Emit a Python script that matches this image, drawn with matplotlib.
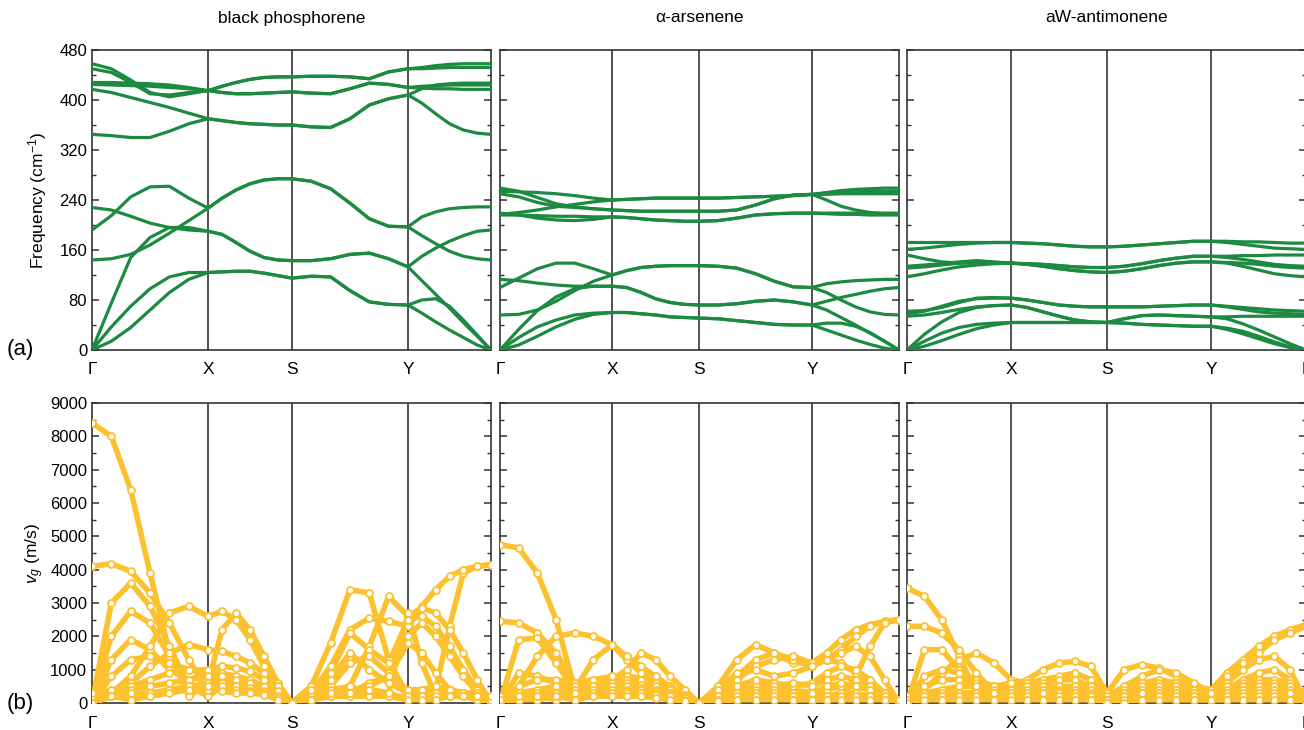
import matplotlib.pyplot as plt
import numpy as np

plt.rcParams['font.family'] = ['Liberation Sans', 'DejaVu Sans']
plt.rcParams['mathtext.fontset'] = 'custom'
plt.rcParams['mathtext.rm'] = 'Liberation Sans'
plt.rcParams['mathtext.it'] = 'Liberation Sans:italic'

materials = ["black phosphorene", "α-arsenene", "aW-antimonene"]
klabels = ["Γ", "X", "S", "Y", "Γ"]
# high-symmetry point positions along the path (fraction of path length)
kpts = [[0, 0.291, 0.501, 0.792, 1.0],
        [0, 0.281, 0.499, 0.782, 1.0],
        [0, 0.261, 0.501, 0.762, 1.0]]
nseg = 7  # samples per segment, ends shared

# phonon frequencies (cm-1), 12 branches, 25 samples along G-X-S-Y-G
bp_freq = [
    [0, 14, 36, 64, 92, 113, 124, 125, 126, 126, 123, 119, 115, 118, 117, 95, 77, 73, 72, 59, 45, 32, 20, 8, 0],
    [0, 37, 70, 98, 117, 124, 124, 125, 126, 126, 123, 119, 115, 118, 117, 95, 77, 73, 72, 80, 82, 70, 48, 24, 0],
    [0, 75, 148, 180, 196, 196, 190, 185, 172, 158, 148, 144, 143, 143, 146, 153, 155, 146, 133, 111, 89, 67, 44, 22, 0],
    [144, 146, 153, 168, 187, 207, 227, 243, 256, 266, 272, 274, 274, 270, 258, 235, 210, 198, 197, 183, 170, 158, 150, 146, 144],
    [192, 215, 245, 261, 262, 243, 227, 243, 256, 266, 272, 274, 274, 270, 258, 235, 210, 198, 197, 213, 221, 226, 228, 229, 229],
    [228, 224, 214, 203, 196, 192, 190, 185, 172, 158, 148, 144, 143, 143, 146, 153, 155, 146, 133, 150, 163, 174, 183, 190, 192],
    [345, 343, 340, 340, 350, 362, 370, 367, 364, 362, 361, 360, 360, 357, 356, 370, 392, 402, 408, 395, 378, 362, 352, 347, 345],
    [417, 412, 404, 396, 388, 379, 370, 367, 364, 362, 361, 360, 360, 357, 356, 370, 392, 402, 408, 418, 424, 426, 427, 427, 427],
    [425, 424, 423, 422, 420, 418, 415, 412, 410, 410, 411, 412, 413, 411, 410, 418, 427, 425, 420, 419, 418, 418, 417, 417, 417],
    [428, 428, 427, 426, 424, 420, 415, 422, 428, 433, 436, 437, 437, 438, 438, 437, 434, 445, 450, 452, 455, 457, 458, 458, 458],
    [458, 450, 432, 412, 405, 410, 415, 412, 410, 410, 411, 412, 413, 411, 410, 418, 427, 425, 420, 422, 423, 424, 424, 424, 424],
    [450, 444, 428, 410, 408, 412, 415, 422, 428, 433, 436, 437, 437, 438, 438, 437, 434, 445, 450, 450, 451, 452, 452, 452, 452],
]
as_freq = [
    [0, 8, 22, 37, 49, 57, 60, 60, 58, 56, 53, 52, 51, 50, 47, 44, 41, 40, 40, 32, 24, 16, 9, 3, 0],
    [0, 20, 37, 48, 56, 59, 60, 60, 58, 56, 53, 52, 51, 50, 47, 44, 41, 40, 40, 43, 43, 38, 28, 14, 0],
    [0, 33, 63, 85, 98, 102, 102, 100, 92, 82, 76, 73, 72, 72, 74, 78, 80, 77, 72, 64, 52, 40, 27, 14, 0],
    [56, 57, 64, 78, 95, 110, 120, 127, 132, 134, 135, 135, 135, 134, 131, 122, 110, 101, 100, 106, 109, 111, 112, 113, 113],
    [100, 115, 130, 139, 139, 130, 120, 127, 132, 134, 135, 135, 135, 134, 131, 122, 110, 101, 100, 92, 80, 69, 61, 57, 56],
    [113, 111, 107, 104, 102, 102, 102, 100, 92, 82, 76, 73, 72, 72, 74, 78, 80, 77, 72, 78, 84, 89, 94, 98, 100],
    [259, 254, 244, 234, 229, 226, 224, 223, 222, 222, 222, 222, 222, 222, 224, 232, 242, 248, 249, 252, 255, 257, 258, 259, 259],
    [250, 245, 236, 230, 228, 226, 224, 223, 222, 222, 222, 222, 222, 222, 224, 232, 242, 248, 249, 240, 230, 224, 220, 218, 217],
    [254, 253, 252, 250, 247, 243, 240, 241, 242, 243, 243, 243, 243, 243, 244, 245, 246, 247, 249, 251, 253, 254, 254, 254, 254],
    [217, 220, 224, 229, 233, 237, 240, 241, 242, 243, 243, 243, 243, 243, 244, 245, 246, 247, 249, 249, 250, 250, 250, 250, 250],
    [219, 216, 211, 208, 207, 209, 213, 212, 210, 208, 207, 206, 206, 207, 211, 216, 218, 219, 219, 219, 219, 219, 219, 219, 219],
    [216, 216, 215, 214, 214, 213, 213, 212, 210, 208, 207, 206, 206, 207, 211, 216, 218, 219, 219, 218, 217, 217, 216, 216, 216],
]
sb_freq = [
    [0, 6, 15, 25, 34, 40, 44, 44, 44, 44, 44, 44, 44, 43, 41, 40, 39, 38, 38, 33, 26, 18, 10, 4, 0],
    [0, 14, 27, 36, 41, 43, 44, 44, 44, 44, 44, 44, 44, 43, 41, 40, 39, 38, 38, 35, 30, 22, 13, 5, 0],
    [0, 25, 45, 60, 68, 71, 72, 68, 61, 54, 48, 45, 44, 50, 55, 56, 55, 54, 53, 50, 42, 32, 21, 10, 0],
    [54, 56, 60, 65, 69, 71, 72, 68, 61, 54, 48, 45, 44, 50, 55, 56, 55, 54, 53, 53, 54, 54, 54, 54, 54],
    [58, 62, 70, 78, 82, 83, 83, 80, 76, 72, 70, 69, 69, 69, 69, 70, 71, 72, 72, 70, 68, 66, 64, 63, 62],
    [62, 63, 68, 76, 83, 84, 83, 80, 76, 72, 70, 69, 69, 69, 69, 70, 71, 72, 72, 69, 65, 61, 59, 58, 57],
    [172, 172, 172, 172, 172, 172, 172, 171, 170, 168, 166, 165, 165, 166, 168, 170, 172, 174, 174, 174, 173, 173, 172, 171, 171],
    [161, 163, 166, 169, 171, 172, 172, 171, 170, 168, 166, 165, 165, 166, 168, 170, 172, 174, 174, 172, 169, 166, 163, 162, 161],
    [152, 146, 141, 139, 139, 139, 139, 138, 137, 135, 133, 132, 132, 134, 138, 143, 147, 150, 150, 150, 151, 151, 152, 152, 152],
    [134, 136, 138, 141, 143, 141, 139, 138, 137, 135, 133, 132, 132, 134, 138, 143, 147, 150, 150, 148, 145, 141, 137, 135, 134],
    [131, 133, 136, 139, 142, 140, 139, 137, 134, 130, 127, 125, 124, 126, 130, 135, 139, 141, 141, 140, 139, 137, 134, 132, 131],
    [117, 122, 128, 133, 136, 138, 139, 137, 134, 130, 127, 125, 124, 126, 130, 135, 139, 141, 141, 139, 134, 128, 122, 119, 117],
]

# group velocities (m/s), same sampling
bp_vg = [
    [8400, 8000, 6400, 3900, 1500, 200, 600, 2200, 2700, 2200, 1400, 600, 0, 500, 1800, 3400, 3300, 1300, 200, 200, 400, 2300, 3900, 4100, 4150],
    [4100, 4180, 3950, 3300, 2400, 1300, 300, 600, 700, 650, 500, 300, 0, 300, 1100, 2200, 2550, 2450, 2300, 2900, 3400, 3800, 4000, 4100, 4150],
    [0, 3000, 3600, 2900, 1700, 500, 200, 500, 600, 600, 450, 250, 0, 200, 300, 500, 1700, 3200, 2600, 2850, 2700, 2200, 1500, 700, 0],
    [0, 2000, 2750, 2400, 1400, 500, 400, 700, 600, 500, 400, 200, 0, 200, 900, 2100, 1600, 1200, 2500, 2600, 2300, 1700, 1000, 400, 0],
    [0, 1300, 1900, 1600, 1000, 700, 900, 900, 800, 700, 500, 300, 0, 100, 500, 1200, 1400, 900, 2000, 2400, 2000, 1400, 800, 300, 0],
    [0, 800, 1300, 1400, 1200, 1000, 900, 800, 700, 600, 500, 250, 0, 100, 200, 300, 600, 800, 1800, 1500, 900, 400, 200, 100, 0],
    [0, 300, 800, 1700, 2700, 2900, 2600, 2750, 2500, 1900, 1100, 500, 0, 500, 300, 300, 400, 300, 2700, 1200, 200, 300, 300, 300, 200],
    [0, 200, 600, 1100, 1500, 1750, 1600, 1550, 1400, 1200, 900, 500, 0, 300, 700, 1500, 1000, 600, 300, 200, 300, 400, 300, 200, 100],
    [0, 300, 500, 700, 900, 1000, 1000, 1100, 1050, 950, 700, 350, 0, 200, 400, 500, 300, 200, 100, 300, 300, 300, 300, 200, 100],
    [200, 400, 400, 500, 600, 700, 800, 600, 500, 450, 350, 200, 0, 300, 200, 300, 500, 800, 400, 400, 500, 400, 300, 200, 100],
    [0, 200, 300, 300, 400, 500, 600, 500, 400, 350, 300, 150, 0, 100, 200, 200, 200, 200, 200, 200, 200, 200, 200, 200, 100],
    [300, 200, 100, 200, 300, 400, 500, 350, 300, 300, 250, 100, 0, 400, 300, 300, 400, 300, 100, 100, 100, 200, 200, 200, 200],
]
as_vg = [
    [4750, 4650, 3900, 2500, 400, 300, 700, 1000, 1500, 1300, 800, 400, 0, 500, 1300, 1750, 1500, 1200, 1200, 1500, 1900, 2200, 2350, 2450, 2500],
    [2450, 2400, 2100, 1500, 600, 200, 600, 800, 750, 650, 500, 250, 0, 300, 800, 1300, 1500, 1300, 1100, 1300, 1600, 2000, 2300, 2450, 2500],
    [0, 1900, 1950, 1200, 400, 300, 600, 700, 650, 550, 400, 200, 0, 200, 400, 500, 600, 400, 300, 200, 100, 800, 1700, 2400, 2500],
    [0, 500, 1400, 2000, 2100, 2000, 1750, 1300, 900, 600, 400, 200, 0, 300, 700, 1100, 1300, 1400, 1200, 1300, 1500, 1700, 1400, 700, 0],
    [0, 300, 200, 100, 400, 1300, 1750, 1400, 1100, 800, 500, 250, 0, 400, 900, 1000, 800, 900, 1100, 1300, 1200, 900, 500, 200, 0],
    [0, 900, 800, 600, 400, 500, 700, 700, 700, 600, 450, 200, 0, 200, 500, 700, 600, 500, 600, 900, 1100, 1000, 700, 300, 0],
    [0, 500, 700, 700, 600, 700, 800, 600, 550, 500, 400, 200, 0, 200, 300, 400, 500, 600, 500, 700, 800, 700, 500, 300, 0],
    [100, 300, 400, 500, 500, 500, 600, 500, 450, 400, 300, 150, 0, 100, 200, 300, 400, 300, 200, 400, 500, 500, 400, 300, 100],
    [0, 200, 300, 300, 400, 400, 500, 400, 400, 350, 300, 150, 0, 200, 300, 300, 200, 200, 300, 500, 600, 500, 400, 200, 100],
    [200, 100, 200, 300, 200, 300, 400, 350, 300, 300, 250, 150, 0, 100, 200, 200, 300, 200, 100, 200, 300, 300, 200, 200, 100],
    [0, 100, 100, 200, 300, 200, 300, 300, 300, 250, 200, 100, 0, 100, 100, 200, 200, 100, 100, 100, 200, 200, 200, 100, 100],
    [100, 200, 200, 200, 100, 200, 200, 200, 200, 150, 100, 50, 0, 50, 100, 100, 100, 100, 100, 100, 100, 100, 100, 100, 100],
]
sb_vg = [
    [3450, 3200, 2500, 1400, 300, 200, 500, 700, 1000, 1200, 1250, 1100, 300, 1000, 1150, 1050, 800, 500, 400, 900, 1300, 1700, 2000, 2200, 2350],
    [2300, 2300, 2100, 1600, 900, 300, 500, 600, 700, 800, 900, 700, 200, 500, 800, 1000, 900, 600, 300, 800, 1200, 1500, 1900, 2100, 2300],
    [0, 1600, 1600, 1000, 500, 300, 600, 500, 600, 700, 700, 500, 100, 400, 600, 700, 600, 400, 300, 600, 1000, 1300, 1400, 1000, 0],
    [0, 400, 900, 1300, 1500, 1200, 700, 600, 500, 500, 500, 400, 100, 300, 500, 600, 500, 400, 400, 400, 700, 900, 1000, 700, 0],
    [0, 800, 1000, 900, 700, 500, 600, 500, 400, 400, 400, 300, 100, 300, 400, 500, 500, 400, 300, 500, 600, 700, 700, 600, 300],
    [0, 500, 700, 700, 600, 500, 400, 400, 400, 350, 300, 250, 100, 200, 300, 400, 400, 300, 200, 400, 500, 600, 600, 500, 200],
    [100, 300, 400, 500, 500, 400, 300, 300, 300, 300, 300, 200, 100, 200, 300, 300, 400, 300, 200, 300, 400, 500, 500, 400, 200],
    [0, 200, 300, 300, 300, 300, 200, 200, 200, 200, 200, 100, 0, 100, 200, 200, 200, 200, 100, 200, 300, 300, 300, 200, 100],
    [0, 100, 200, 300, 300, 200, 100, 200, 300, 300, 300, 200, 100, 100, 200, 300, 300, 200, 200, 300, 400, 400, 400, 300, 100],
    [200, 100, 200, 200, 300, 300, 300, 300, 300, 300, 200, 100, 100, 200, 300, 200, 200, 200, 300, 200, 300, 300, 300, 300, 200],
    [100, 200, 100, 200, 200, 100, 200, 200, 100, 200, 200, 100, 0, 100, 100, 200, 100, 100, 100, 100, 200, 200, 200, 100, 100],
    [0, 100, 100, 100, 100, 100, 100, 100, 100, 100, 100, 100, 0, 0, 100, 100, 100, 100, 100, 100, 100, 100, 100, 100, 0],
]

freqs = [bp_freq, as_freq, sb_freq]
vgs = [bp_vg, as_vg, sb_vg]

green = '#1d8a41'
yellow = '#fcc12e'
dark = '#333333'


def path_x(k):
    xs = [np.linspace(k[i], k[i + 1], nseg) for i in range(4)]
    return np.concatenate([xs[0]] + [s[1:] for s in xs[1:]])


def style(ax, k, first, last):
    ax.set_xlim(0, 1)
    for v in k[1:-1]:
        ax.axvline(v, color=dark, lw=1.2, zorder=1)
    for s in ax.spines.values():
        s.set_color(dark)
        s.set_linewidth(1.2)
    # the shared Γ between neighbouring panels is written once
    labs = klabels if last else klabels[:-1] + [""]
    ax.set_xticks(k, labs)
    ax.tick_params(axis='x', length=0, pad=9, labelsize=12.5)
    ax.tick_params(axis='y', which='both', direction='in', left=True, right=True,
                   labelleft=first, labelsize=12, color=dark)
    ax.tick_params(axis='y', which='major', length=5, width=1.1)
    ax.tick_params(axis='y', which='minor', length=3, width=1.0)


fig = plt.figure(figsize=(13.04, 7.30), dpi=100)
W, H = 1304, 730
lefts = [92, 500, 907]
for j in range(3):
    k = kpts[j]
    x = path_x(k)
    ax1 = fig.add_axes([lefts[j] / W, 1 - 350 / H, 399 / W, 300 / H])
    for band in freqs[j]:
        ax1.plot(x, band, color=green, lw=2.3, zorder=3, solid_capstyle='round',
                 solid_joinstyle='round')
    ax1.set_ylim(0, 480)
    ax1.set_yticks(np.arange(0, 481, 80))
    ax1.set_yticks(np.arange(40, 480, 80), minor=True)
    style(ax1, k, j == 0, j == 2)
    ax1.text(0.5, 1 + 32 / 300, materials[j], transform=ax1.transAxes,
             ha='center', va='center', fontsize=12.5)

    ax2 = fig.add_axes([lefts[j] / W, 1 - 703 / H, 399 / W, 300 / H])
    for band in vgs[j]:
        ax2.plot(x, band, color=yellow, lw=4.0, zorder=3, solid_joinstyle='round',
                 solid_capstyle='round')
        ax2.plot(x, band, 'o', mfc='white', mec=yellow, mew=1.3, ms=5, zorder=4)
    ax2.set_ylim(0, 9000)
    ax2.set_yticks(np.arange(0, 9001, 1000))
    ax2.set_yticks(np.arange(500, 9000, 1000), minor=True)
    style(ax2, k, j == 0, j == 2)

fig.text(38 / W, 1 - 200 / H, 'Frequency (cm$^{-1}$)', rotation=90,
         ha='center', va='center', fontsize=12.5)
fig.text(35 / W, 1 - 553 / H, '$v_g$ (m/s)', rotation=90,
         ha='center', va='center', fontsize=12.5)
fig.text(20 / W, 1 - 350 / H, '(a)', ha='center', va='center', fontsize=16)
fig.text(20 / W, 1 - 703 / H, '(b)', ha='center', va='center', fontsize=16)

fig.savefig('out.png', dpi=100)
